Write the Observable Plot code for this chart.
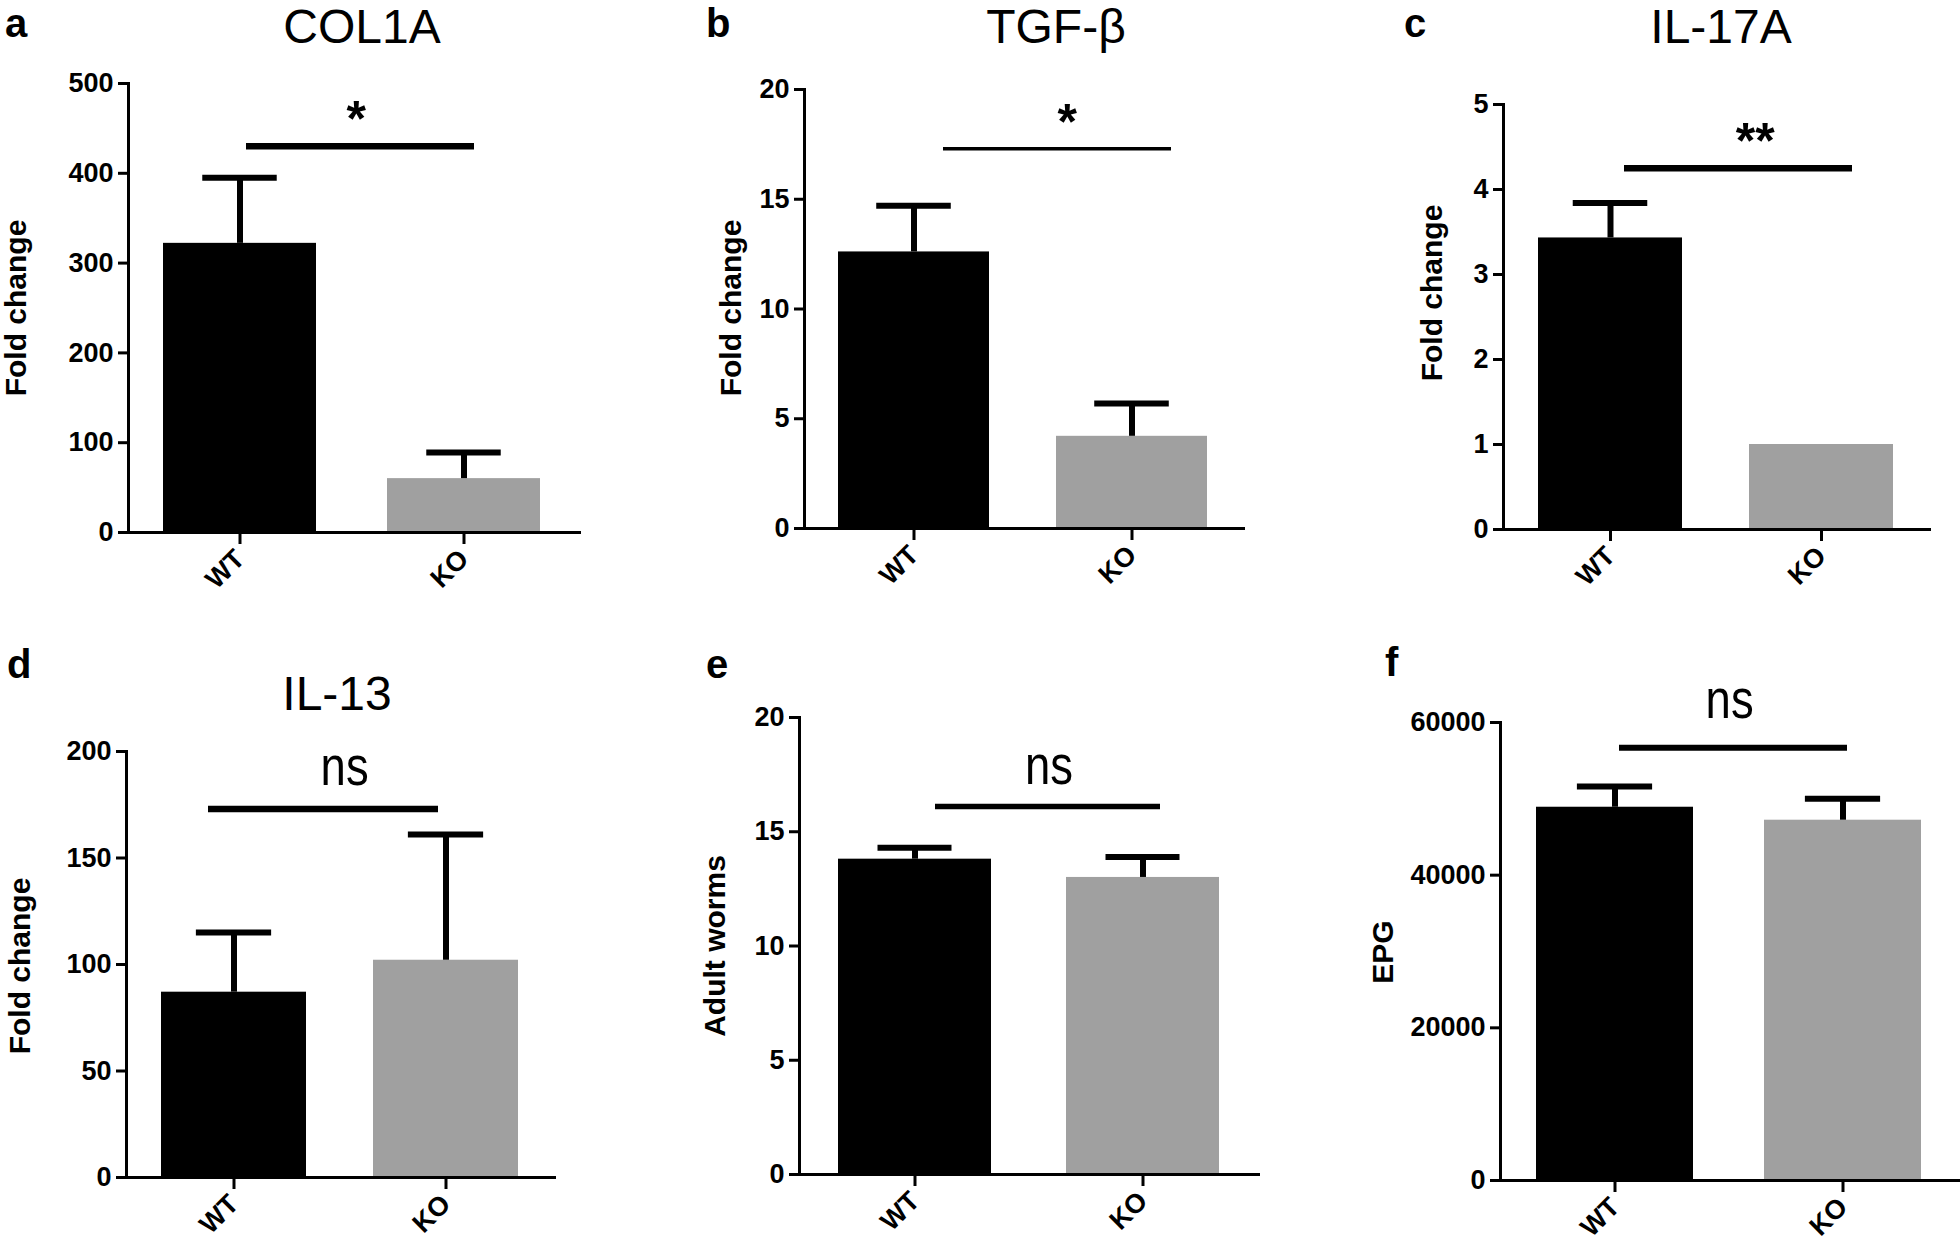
<!DOCTYPE html>
<html>
<head>
<meta charset="utf-8">
<script src="https://cdn.jsdelivr.net/npm/d3@7"></script>
<script src="https://cdn.jsdelivr.net/npm/@observablehq/plot@0.6"></script>
<style>
  body { margin: 0; background: #fff; }
  #root { position: relative; width: 1960px; height: 1244px; overflow: hidden; background: #fff;
          font-family: "Liberation Sans", Arial, Helvetica, sans-serif; color: #000; }
  .panel { position: absolute; }
  .lab { position: absolute; white-space: nowrap; }
  .title { font-size: 48px; font-weight: 400; line-height: 0.9; transform: translate(-50%, -50%); }
  .letter { font-size: 40px; font-weight: 700; line-height: 0.8; }
  .ylab { font-size: 30px; font-weight: 700; line-height: 0.9; transform: translate(-50%, -50%) rotate(-90deg); }
</style>
</head>
<body>
<div id="root"></div>
<script>
// ---------------- data ----------------
const groups = ["WT", "KO"];
const panelIds = ["a", "b", "c", "d", "e", "f"];
const titles = ["COL1A", "TGF-β", "IL-17A", "IL-13", "", ""];
const yLabels = ["Fold change", "Fold change", "Fold change", "Fold change", "Adult worms", "EPG"];
const yMax = [500, 20, 5, 200, 20, 60000];
const yTicks = [
  [0, 100, 200, 300, 400, 500],
  [0, 5, 10, 15, 20],
  [0, 1, 2, 3, 4, 5],
  [0, 50, 100, 150, 200],
  [0, 5, 10, 15, 20],
  [0, 20000, 40000, 60000]
];
const wtMean = [322, 12.6, 3.43, 87, 13.8, 48900];
const wtSem  = [73, 2.1, 0.41, 28, 0.5, 2700];
const koMean = [60, 4.2, 1.0, 102, 13.0, 47200];
const koSem  = [29, 1.5, 0, 59, 0.9, 2800];
const sigLevel = [430, 17.3, 4.25, 173, 16.1, 56700];
const sigText = ["*", "*", "**", "ns", "ns", "ns"];
const barColors = ["#000000", "#a0a0a0"];

// ---------------- layout (pixels) ----------------
// box: [left, top, width, height] of each panel SVG; m: [top, right, bottom, left] margins;
// xr: pixel range of the band scale (start of WT bar to end of KO bar), pad: inner padding.
const layout = [
  {box: [0, 0, 650, 620],      m: [83, 71, 88, 128],     xr: [163, 541],   pad: 0.316, inset: [83, 66],  sw: 6.5, lx: 356, ldy: -10,
   title: [362, 27], letter: [5, 37],    ylab: [15, 308]},
  {box: [650, 0, 650, 620],    m: [89, 57, 92, 154],     xr: [188, 558],   pad: 0.307, inset: [105, 36], sw: 3.5, lx: 417, ldy: -10,
   title: [1056, 27], letter: [706, 37], ylab: [730, 308]},
  {box: [1300, 0, 660, 620],   m: [104, 31, 91, 203],    xr: [238, 594],   pad: 0.317, inset: [86, 41],  sw: 6.5, lx: 455, ldy: -10,
   title: [1721, 27], letter: [1404, 37], ylab: [1431, 293]},
  {box: [0, 620, 650, 624],    m: [131, 96, 67, 126],    xr: [161, 518],   pad: 0.318, inset: [47, 80],  sw: 6.5, lx: 344, ldy: -24,
   title: [337, 694], letter: [7, 678],  ylab: [19, 966]},
  {box: [650, 620, 650, 624],  m: [97, 42, 70, 149],     xr: [187, 570],   pad: 0.3275, inset: [97, 59], sw: 5.5, lx: 398, ldy: -23,
   title: null, letter: [706, 678], ylab: [714, 946]},
  {box: [1300, 620, 660, 624], m: [102, 0, 64, 200],     xr: [236, 621],   pad: 0.313, inset: [83, 74],  sw: 6,   lx: 429, ldy: -30,
   title: null, letter: [1385, 676], ylab: [1382, 952]}
];

const root = document.getElementById("root");
const FONT = "'Liberation Sans', Arial, Helvetica, sans-serif";

panelIds.forEach((id, i) => {
  const L = layout[i];
  const [bx, by, bw, bh] = L.box;
  const rows = groups.map((g, j) => {
    const mean = j === 0 ? wtMean[i] : koMean[i];
    const sem = j === 0 ? wtSem[i] : koSem[i];
    return {group: g, mean, sem, top: mean + sem};
  });
  const errRows = rows.filter(d => d.sem > 0);
  const sig = [{y: sigLevel[i], label: sigText[i]}];
  const R = L.xr[1] - L.xr[0];
  const step = R / (2 - L.pad);
  const bandW = step * (1 - L.pad);
  const capInset = (bandW - 75) / 2;
  const wtCenter = L.xr[0] + bandW / 2;
  const isNs = sigText[i] === "ns";

  const chart = Plot.plot({
    width: bw,
    height: bh,
    marginTop: L.m[0], marginRight: L.m[1], marginBottom: L.m[2], marginLeft: L.m[3],
    style: {fontFamily: FONT, fontSize: "27px", fontWeight: "bold", color: "#000", background: "transparent", overflow: "visible"},
    x: {type: "band", domain: groups, range: L.xr, paddingInner: L.pad, paddingOuter: 0, label: null},
    y: {domain: [0, yMax[i]], label: null},
    color: {domain: groups, range: barColors},
    marks: [
      Plot.barY(rows, {x: "group", y: "mean", fill: "group"}),
      Plot.ruleX(errRows, {x: "group", y1: "mean", y2: "top", stroke: "#000", strokeWidth: 6}),
      Plot.tickY(errRows, {x: "group", y: "top", stroke: "#000", strokeWidth: 6, insetLeft: capInset, insetRight: capInset}),
      Plot.ruleY(sig, {x1: () => "WT", x2: () => "KO", y: "y", stroke: "#000", strokeWidth: L.sw,
                       insetLeft: L.inset[0], insetRight: L.inset[1]}),
      Plot.text(sig, {x: () => "WT", y: "y", text: "label", dx: L.lx - wtCenter, dy: L.ldy, lineAnchor: "bottom",
                      fontSize: isNs ? 56 : 50, fontWeight: isNs ? "normal" : "bold",
                      fontFamily: FONT, fill: "#000"}),
      Plot.axisY({ticks: yTicks[i], tickSize: 10, tickPadding: 5, strokeWidth: 3, tickFormat: d => String(d), label: null}),
      Plot.axisX({tickSize: 12, tickPadding: 10, tickRotate: -45, strokeWidth: 3, label: null}),
      Plot.frame({anchor: "left", strokeWidth: 3}),
      Plot.frame({anchor: "bottom", strokeWidth: 3})
    ]
  });
  const wrap = document.createElement("div");
  wrap.className = "panel";
  wrap.style.left = bx + "px";
  wrap.style.top = by + "px";
  wrap.style.width = bw + "px";
  wrap.style.height = bh + "px";
  wrap.appendChild(chart);
  root.appendChild(wrap);

  // condensed "ns" lettering as in the original figure
  if (isNs) {
    chart.querySelectorAll('g[aria-label="text"] text').forEach(t => {
      t.setAttribute("textLength", 48);
      t.setAttribute("lengthAdjust", "spacingAndGlyphs");
    });
  }
});

// text overlays
panelIds.forEach((id, i) => {
  const L = layout[i];
  const letter = document.createElement("div");
  letter.className = "lab letter";
  letter.textContent = id;
  letter.style.left = L.letter[0] + "px";
  // letter[1] is the baseline; with line-height 0.8 the baseline sits 0.7465em below the top
  letter.style.top = (L.letter[1] - 0.7465 * 40) + "px";
  root.appendChild(letter);

  if (titles[i]) {
    const t = document.createElement("div");
    t.className = "lab title";
    t.textContent = titles[i];
    t.style.left = L.title[0] + "px";
    t.style.top = L.title[1] + "px";
    root.appendChild(t);
  }

  const yl = document.createElement("div");
  yl.className = "lab ylab";
  yl.textContent = yLabels[i];
  yl.style.left = L.ylab[0] + "px";
  yl.style.top = L.ylab[1] + "px";
  root.appendChild(yl);
});
</script>
</body>
</html>
